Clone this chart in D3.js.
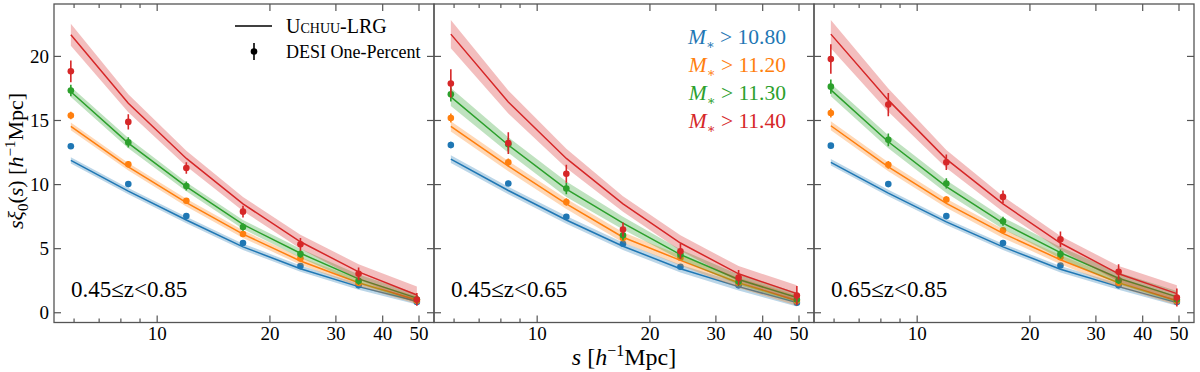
<!DOCTYPE html>
<html><head><meta charset="utf-8">
<script src="https://cdn.jsdelivr.net/npm/d3@7"></script>
<style>
body{margin:0;background:#fff;}
svg text{font-family:"Liberation Serif","DejaVu Serif",serif;fill:#000;}
</style></head>
<body><svg id="c" width="1200" height="372"></svg>
<script>
// ---- data ----
const sBins = [5.9, 8.4, 12.0, 17.0, 24.2, 34.6, 49.5];
const panelLabels = ["0.45≤z<0.85", "0.45≤z<0.65", "0.65≤z<0.85"];
const seriesNames = ["10.80", "11.20", "11.30", "11.40"];
const seriesColors = ["#1f77b4", "#ff7f0e", "#2ca02c", "#d62728"];
const xMajorTicks = [10, 20, 30, 40, 50];
const xMinorTicks = [6, 7, 8, 9];
const yTicks = [0, 5, 10, 15, 20];

// DESI points per panel [blue, orange, green, red]
const obsP1 = [[12.95,10.0,7.5,5.4,3.6,2.1,0.8],[15.35,11.55,8.7,6.1,4.2,2.3,0.9],[17.3,13.25,9.85,6.65,4.55,2.45,1.0],[18.8,14.85,11.25,7.85,5.3,3.0,1.0]];
const errP1 = [[0.2,0.15,0.15,0.15,0.15,0.15,0.2],[0.3,0.25,0.2,0.2,0.2,0.2,0.25],[0.45,0.4,0.35,0.3,0.3,0.3,0.35],[0.85,0.6,0.45,0.45,0.5,0.5,0.5]];
const obsP2 = [[13.05,10.05,7.45,5.35,3.55,2.1,0.75],[15.15,11.7,8.6,5.8,4.25,2.3,0.9],[17.0,13.1,9.65,6.0,4.5,2.4,1.0],[17.85,13.2,10.8,6.45,4.75,2.7,1.3]];
const errP2 = [[0.25,0.2,0.2,0.2,0.2,0.2,0.25],[0.35,0.3,0.3,0.25,0.25,0.25,0.3],[0.55,0.5,0.45,0.4,0.35,0.35,0.4],[1.1,0.85,0.7,0.55,0.6,0.6,0.75]];
const obsP3 = [[13.0,10.0,7.5,5.4,3.65,2.1,0.8],[15.55,11.5,8.8,6.4,4.3,2.3,0.9],[17.6,13.45,10.05,7.1,4.55,2.5,1.0],[19.75,16.2,11.7,9.0,5.7,3.15,1.15]];
const errP3 = [[0.2,0.15,0.15,0.15,0.15,0.15,0.2],[0.35,0.3,0.25,0.2,0.2,0.2,0.25],[0.55,0.5,0.4,0.35,0.35,0.3,0.35],[1.15,0.9,0.6,0.5,0.6,0.6,0.7]];

// Uchuu-LRG model per panel
const modP1 = [[11.85,9.45,7.2,5.1,3.4,2.0,0.85],[14.5,11.35,8.55,6.1,4.0,2.3,0.95],[17.2,13.2,9.8,6.85,4.6,2.6,1.1],[21.65,16.3,12.0,8.45,5.5,3.15,1.35]];
const bandP1 = [[0.25,0.25,0.25,0.25,0.25,0.25,0.25],[0.3,0.3,0.3,0.3,0.3,0.3,0.3],[0.4,0.4,0.35,0.35,0.35,0.35,0.35],[0.85,0.7,0.6,0.55,0.55,0.6,0.65]];
const modP2 = [[11.95,9.5,7.2,5.15,3.4,2.0,0.75],[14.5,11.4,8.45,5.85,4.05,2.3,0.9],[16.8,13.05,9.6,6.95,4.5,2.55,1.15],[21.7,16.4,12.0,8.45,5.4,3.0,1.45]];
const bandP2 = [[0.3,0.3,0.3,0.3,0.3,0.3,0.3],[0.4,0.4,0.4,0.4,0.4,0.4,0.4],[0.7,0.6,0.6,0.5,0.4,0.4,0.4],[1.1,0.9,0.75,0.6,0.6,0.6,0.65]];
const modP3 = [[11.7,9.3,7.05,5.1,3.35,2.0,0.75],[14.55,11.35,8.5,6.15,4.1,2.3,0.9],[17.35,13.3,9.8,6.95,4.65,2.65,1.2],[21.7,16.55,11.95,8.45,5.4,3.0,1.45]];
const bandP3 = [[0.25,0.25,0.25,0.25,0.25,0.25,0.25],[0.35,0.35,0.35,0.35,0.35,0.35,0.35],[0.5,0.5,0.5,0.45,0.45,0.45,0.45],[1.1,0.9,0.7,0.6,0.55,0.6,0.65]];

const panels = [
  {obs: obsP1, err: errP1, mod: modP1, band: bandP1},
  {obs: obsP2, err: errP2, mod: modP2, band: bandP2},
  {obs: obsP3, err: errP3, mod: modP3, band: bandP3}
];

// ---- layout ----
const svg = d3.select("#c");
const left0 = 54, pw = 380, plotTop = 4, plotBottom = 322.5;
const frameColor = "#555";
const y = d3.scaleLinear().domain([-0.8, 24.05]).range([plotBottom, plotTop]);

panels.forEach((p, pi) => {
  const x0 = left0 + pi * pw;
  const x = d3.scaleLog().domain([5.32, 55.0]).range([x0, x0 + pw]);
  const g = svg.append("g");

  const clip = "clip" + pi;
  svg.append("clipPath").attr("id", clip).append("rect")
    .attr("x", x0).attr("y", plotTop).attr("width", pw).attr("height", plotBottom - plotTop);
  const dg = g.append("g").attr("clip-path", `url(#${clip})`);
  seriesColors.forEach((col, si) => {
    const rows = sBins.map((s, i) => ({s, m: p.mod[si][i], b: p.band[si][i], o: p.obs[si][i], e: p.err[si][i]}));
    dg.append("path").datum(rows)
      .attr("d", d3.area().x(d => x(d.s)).y0(d => y(d.m - d.b)).y1(d => y(d.m + d.b)))
      .attr("fill", col).attr("fill-opacity", 0.3).attr("stroke", "none");
    dg.append("path").datum(rows)
      .attr("d", d3.line().x(d => x(d.s)).y(d => y(d.m)))
      .attr("fill", "none").attr("stroke", col).attr("stroke-width", 1.5);
    dg.selectAll(null).data(rows).enter().append("line")
      .attr("x1", d => x(d.s)).attr("x2", d => x(d.s))
      .attr("y1", d => y(d.o - d.e)).attr("y2", d => y(d.o + d.e))
      .attr("stroke", col).attr("stroke-width", 1.6);
    dg.selectAll(null).data(rows).enter().append("circle")
      .attr("cx", d => x(d.s)).attr("cy", d => y(d.o)).attr("r", 3.3).attr("fill", col);
  });

  const mk = (axis, sc, vals, size, fmt) => axis(sc).tickValues(vals).tickSizeInner(-size).tickSizeOuter(0).tickFormat(fmt);
  const addAxis = (tr, a, showLabels) => {
    const ag = g.append("g").attr("transform", tr).call(a);
    ag.select(".domain").remove();
    ag.selectAll(".tick line").attr("stroke", frameColor).attr("stroke-width", 1.2);
    ag.selectAll("text").attr("font-size", 19).attr("fill", "#000");
    if (!showLabels) ag.selectAll("text").remove();
    return ag;
  };
  addAxis(`translate(0,${plotBottom})`, mk(d3.axisBottom, x, xMajorTicks, 7, d3.format("d")).tickPadding(4), true);
  addAxis(`translate(0,${plotBottom})`, mk(d3.axisBottom, x, xMinorTicks, 4, ""), false);
  addAxis(`translate(0,${plotTop})`, mk(d3.axisTop, x, xMajorTicks, 7, ""), false);
  addAxis(`translate(0,${plotTop})`, mk(d3.axisTop, x, xMinorTicks, 4, ""), false);
  addAxis(`translate(${x0},0)`, mk(d3.axisLeft, y, yTicks, 7, d3.format("d")).tickPadding(5), pi === 0);
  addAxis(`translate(${x0 + pw},0)`, mk(d3.axisRight, y, yTicks, 7, ""), false);

  g.append("rect").attr("x", x0).attr("y", plotTop).attr("width", pw).attr("height", plotBottom - plotTop)
    .attr("fill", "none").attr("stroke", frameColor).attr("stroke-width", 1.3);

  g.append("text").attr("x", x0 + 17).attr("y", 297).attr("font-size", 23).text(panelLabels[pi]);
});

// legend panel 1
const lg = svg.append("g");
lg.append("line").attr("x1", 235).attr("x2", 272).attr("y1", 26).attr("y2", 26).attr("stroke", "#000").attr("stroke-width", 1.5);
lg.append("text").attr("x", 286).attr("y", 33).attr("font-size", 20).style("font-variant", "small-caps").text("Uchuu-LRG");
lg.append("line").attr("x1", 254).attr("x2", 254).attr("y1", 43).attr("y2", 60).attr("stroke", "#000").attr("stroke-width", 1.6);
lg.append("circle").attr("cx", 254).attr("cy", 51.5).attr("r", 3.3).attr("fill", "#000");
lg.append("text").attr("x", 286).attr("y", 58).attr("font-size", 18).text("DESI One-Percent");

// legend panel 2 (mass thresholds)
seriesNames.forEach((nm, i) => {
  const t = svg.append("text").attr("x", 786).attr("y", 43.5 + i * 28.2).attr("text-anchor", "end")
    .attr("font-size", 21.5).style("fill", seriesColors[i]);
  t.append("tspan").attr("font-style", "italic").text("M");
  t.append("tspan").attr("font-size", 13).attr("dy", 5).text("∗");
  t.append("tspan").attr("dy", -5).text(" > " + nm);
});

// axis titles
const yl = svg.append("text").attr("transform", "translate(23,161) rotate(-90)").attr("text-anchor", "middle").attr("font-size", 22);
yl.append("tspan").attr("font-style", "italic").text("sξ");
yl.append("tspan").attr("font-size", 15).attr("dy", 5).text("0");
yl.append("tspan").attr("dy", -5).text("(");
yl.append("tspan").attr("font-style", "italic").text("s");
yl.append("tspan").text(") [");
yl.append("tspan").attr("font-style", "italic").text("h");
yl.append("tspan").attr("font-size", 15).attr("dy", -8).text("−1");
yl.append("tspan").attr("dy", 8).text("Mpc]");

const xl = svg.append("text").attr("x", 624).attr("y", 365).attr("text-anchor", "middle").attr("font-size", 24);
xl.append("tspan").attr("font-style", "italic").text("s");
xl.append("tspan").text(" [");
xl.append("tspan").attr("font-style", "italic").text("h");
xl.append("tspan").attr("font-size", 16).attr("dy", -9).text("−1");
xl.append("tspan").attr("dy", 9).text("Mpc]");
</script></body></html>
